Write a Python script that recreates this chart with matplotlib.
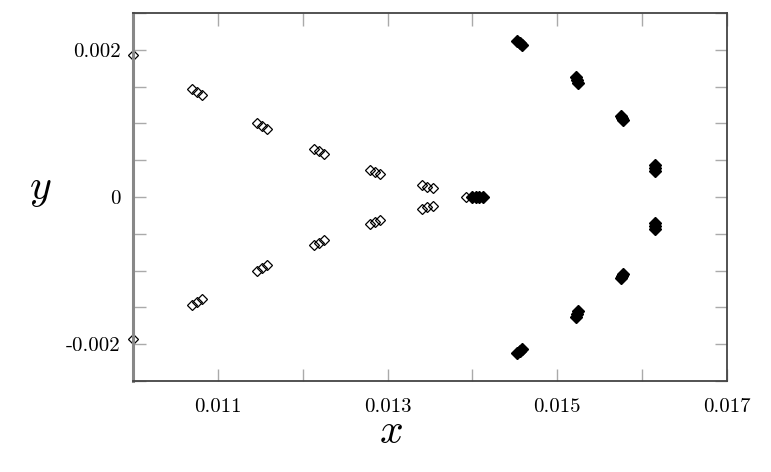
import matplotlib
matplotlib.use('Agg')
from matplotlib import pyplot as plt

plt.rcParams['mathtext.fontset'] = 'cm'
plt.rcParams['font.family'] = ['cmr10', 'DejaVu Serif']

# hollow diamonds: left branches (upper then lower) and the left edge points
open_x = [0.01000,
          0.01069, 0.01075, 0.01081,
          0.01146, 0.01152, 0.01158,
          0.01213, 0.01219, 0.01225,
          0.01279, 0.01285, 0.01291,
          0.01341, 0.01347, 0.01353,
          0.01000,
          0.01069, 0.01075, 0.01081,
          0.01146, 0.01152, 0.01158,
          0.01213, 0.01219, 0.01225,
          0.01279, 0.01285, 0.01291,
          0.01341, 0.01347, 0.01353,
          0.01393]
open_y = [0.00193,
          0.00147, 0.00143, 0.00139,
          0.00101, 0.00097, 0.00093,
          0.00065, 0.00062, 0.00059,
          0.00037, 0.00034, 0.00031,
          0.00016, 0.00014, 0.00012,
          -0.00193,
          -0.00147, -0.00143, -0.00139,
          -0.00101, -0.00097, -0.00093,
          -0.00065, -0.00062, -0.00059,
          -0.00037, -0.00034, -0.00031,
          -0.00016, -0.00014, -0.00012,
          0.0]

# filled diamonds: centre blob and right branch
fill_x = [0.01400, 0.01404, 0.01408, 0.01412,
          0.01453, 0.01456, 0.01459,
          0.01522, 0.01523, 0.01524,
          0.01575, 0.01576, 0.01577,
          0.01615, 0.01615, 0.01615,
          0.01453, 0.01456, 0.01459,
          0.01522, 0.01523, 0.01524,
          0.01575, 0.01576, 0.01577,
          0.01615, 0.01615, 0.01615]
fill_y = [0.0, 0.0, 0.0, 0.0,
          0.00212, 0.00209, 0.00206,
          0.00163, 0.00159, 0.00155,
          0.00110, 0.00107, 0.00104,
          0.00044, 0.00040, 0.00036,
          -0.00212, -0.00209, -0.00206,
          -0.00163, -0.00159, -0.00155,
          -0.00110, -0.00107, -0.00104,
          -0.00044, -0.00040, -0.00036]

x_ticks = [0.010, 0.011, 0.012, 0.013, 0.014, 0.015, 0.016, 0.017]
x_labels = ['', '0.011', '', '0.013', '', '0.015', '', '0.017']
y_ticks = [-0.0025, -0.002, -0.0015, -0.001, -0.0005, 0.0, 0.0005, 0.001, 0.0015, 0.002, 0.0025]
y_labels = ['', '-0.002', '', '', '', '0', '', '', '', '0.002', '']

fig = plt.figure(figsize=(7.71, 4.72), dpi=100)
ax = fig.add_axes([133/771, 1-381/472, 594/771, 368/472])

ax.plot(open_x, open_y, 'D', ms=5.5, mfc='none', mec='k', mew=0.9, linestyle='none', clip_on=False)
ax.plot(fill_x, fill_y, 'D', ms=6, mfc='k', mec='k', mew=1, linestyle='none')

ax.set_xlim(0.010, 0.017)
ax.set_ylim(-0.0025, 0.0025)
ax.set_xticks(x_ticks)
ax.set_xticklabels(x_labels)
ax.set_yticks(y_ticks)
ax.set_yticklabels(y_labels)

ax.tick_params(direction='in', length=9, width=1, color='#aaaaaa',
               top=True, right=True, labelsize=15)
ax.tick_params(axis='x', pad=12)
ax.tick_params(axis='y', pad=9)

for side in ['top', 'right', 'bottom']:
    ax.spines[side].set_color('#444444')
    ax.spines[side].set_linewidth(1.3)
ax.spines['left'].set_color('#888888')
ax.spines['left'].set_linewidth(2.2)

fig.text(40/771, 1-190/472, '$y$', fontsize=30, ha='center', va='center')
fig.text(391/771, 1-432/472, '$x$', fontsize=30, ha='center', va='center')

fig.savefig('out.png', dpi=100)
